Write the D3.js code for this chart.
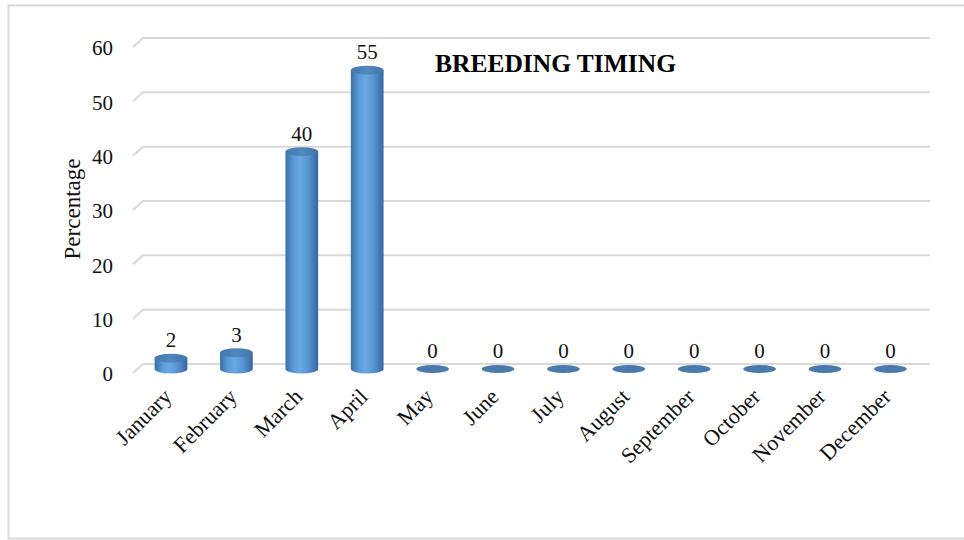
<!DOCTYPE html>
<html>
<head>
<meta charset="utf-8">
<script src="https://cdn.jsdelivr.net/npm/d3@7"></script>
<style>
  html, body { margin: 0; padding: 0; background: #fff; }
  svg { display: block; font-family: "Liberation Serif", "Times New Roman", serif; }
</style>
</head>
<body>
<svg id="chart" width="964" height="540"></svg>
<script>
// Breeding timing: share of breeding events per month (%)
const months = ["January", "February", "March", "April", "May", "June",
                "July", "August", "September", "October", "November", "December"];
const percentages = [2, 3, 40, 55, 0, 0, 0, 0, 0, 0, 0, 0];
const yTicks = [0, 10, 20, 30, 40, 50, 60];
const chartTitle = "BREEDING TIMING";
const yTitle = "Percentage";

const svg = d3.select("#chart");

// outer frame
svg.append("rect")
  .attr("x", 8.5).attr("y", 5.5)
  .attr("width", 962).attr("height", 533)
  .attr("fill", "none").attr("stroke", "#d9d9d9").attr("stroke-width", 2);

// scales: bars stand in the middle of the floor depth
const x = d3.scaleBand().domain(months).range([138.3, 923.1])
  .paddingInner(0.5).paddingOuter(0.25);
const y = d3.scaleLinear().domain([0, 60]).range([369, 43]);

const depthBack = -5, depthFront = 4, wallOffset = 10;
const xLeft = 133, xRight = 930;

// 3D gridlines: short diagonal from front edge, then along the back wall
const grid = svg.append("g");
yTicks.forEach(t => {
  const yb = y(t) + depthBack, yf = y(t) + depthFront;
  grid.append("path")
    .attr("d", `M${xLeft},${yf}L${xLeft + wallOffset},${yb}L${xRight},${yb}`)
    .attr("fill", "none").attr("stroke", "#d9d9d9").attr("stroke-width", 2);
});

// y-axis tick labels
svg.append("g").selectAll("text").data(yTicks).join("text")
  .attr("x", 113).attr("y", d => y(d) + 5).attr("dy", "0.35em")
  .attr("text-anchor", "end").attr("font-size", 21).attr("fill", "#111")
  .text(d => d);

// y-axis title
svg.append("text")
  .attr("transform", "translate(80,209) rotate(-90)")
  .attr("text-anchor", "middle").attr("font-size", 23).attr("fill", "#111")
  .text(yTitle);

// chart title
svg.append("text")
  .attr("x", 435).attr("y", 72)
  .attr("font-size", 25).attr("font-weight", "bold").attr("fill", "#000")
  .attr("textLength", 241).attr("lengthAdjust", "spacingAndGlyphs")
  .text(chartTitle);

// cylinder shading
const defs = svg.append("defs");
const body = defs.append("linearGradient").attr("id", "cylBody")
  .attr("x1", "0%").attr("x2", "100%").attr("y1", "0%").attr("y2", "0%");
[["0%", "#3b70a8"], ["25%", "#5b9bd8"], ["45%", "#68a9e4"], ["70%", "#5794d0"], ["100%", "#3566a0"]]
  .forEach(([o, c]) => body.append("stop").attr("offset", o).attr("stop-color", c));
const topGrad = defs.append("linearGradient").attr("id", "cylTop")
  .attr("x1", "0%").attr("x2", "100%").attr("y1", "0%").attr("y2", "0%");
[["0%", "#4477ad"], ["50%", "#5188c0"], ["100%", "#4174aa"]]
  .forEach(([o, c]) => topGrad.append("stop").attr("offset", o).attr("stop-color", c));

const rx = x.bandwidth() / 2, ry = 4.5;
const bars = svg.append("g").selectAll("g")
  .data(months.map((m, i) => ({ month: m, value: percentages[i] })))
  .join("g");

bars.each(function (d) {
  const g = d3.select(this);
  const cx = x(d.month) + rx;
  const yt = y(d.value), yb = y(0);
  if (d.value > 0) {
    g.append("path")
      .attr("d", `M${cx - rx},${yt}L${cx - rx},${yb}A${rx},${ry} 0 0 0 ${cx + rx},${yb}L${cx + rx},${yt}Z`)
      .attr("fill", "url(#cylBody)");
    g.append("ellipse")
      .attr("cx", cx).attr("cy", yt).attr("rx", rx).attr("ry", ry)
      .attr("fill", "url(#cylTop)");
  } else {
    g.append("ellipse")
      .attr("cx", cx).attr("cy", yb).attr("rx", rx).attr("ry", 4)
      .attr("fill", "#4a7aab");
  }
  // value label
  g.append("text")
    .attr("x", cx).attr("y", yt - 11)
    .attr("text-anchor", "middle").attr("font-size", 21).attr("fill", "#111")
    .text(d.value);
});

// month labels, slanted
svg.append("g").selectAll("text").data(months).join("text")
  .attr("transform", d => `translate(${x(d) + rx + 2},${398}) rotate(-45)`)
  .attr("text-anchor", "end").attr("font-size", 22).attr("fill", "#111")
  .text(d => d);
</script>
</body>
</html>
